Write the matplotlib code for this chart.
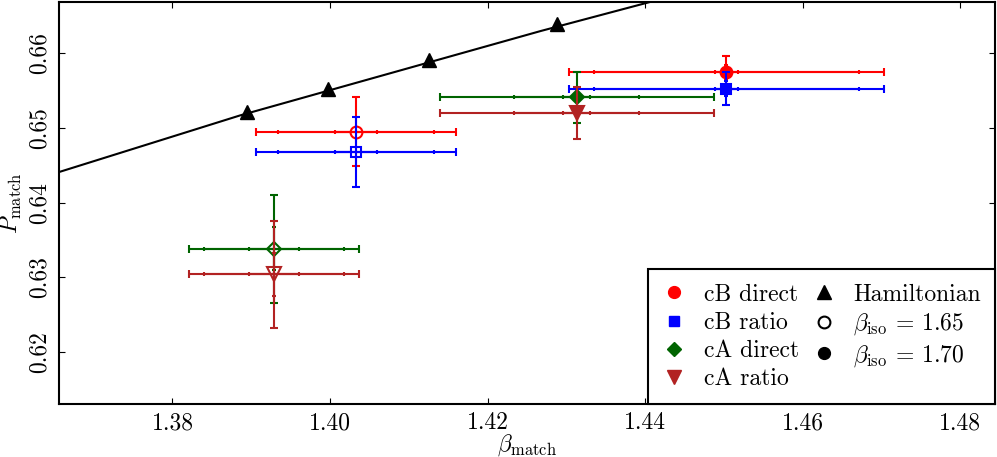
import numpy as np
import matplotlib.pyplot as plt
from matplotlib.lines import Line2D

plt.rcParams['font.family'] = 'cmr10'
plt.rcParams['mathtext.fontset'] = 'cm'
plt.rcParams['axes.unicode_minus'] = False
plt.rcParams['axes.formatter.use_mathtext'] = True
plt.rcParams['font.size'] = 17

# Hamiltonian matching points and the curve drawn through them
ham_beta = [1.3894, 1.3998, 1.4126, 1.4288]
ham_p = [0.6522, 0.6553, 0.6591, 0.6639]
curve_beta = [1.3656, 1.3886, 1.4267, 1.4406]
curve_p = [0.6441, 0.6517, 0.6630, 0.6669]

labels = ['cB direct', 'cB ratio', 'cA direct', 'cA ratio']
colors = ['red', 'blue', 'darkgreen', 'firebrick']
markers = ['o', 's', 'D', 'v']
msizes = [8.5, 7.5, 7, 10.5]

# beta_iso = 1.65 (open symbols)
beta_a = [1.4033, 1.4033, 1.3929, 1.3929]
p_a = [0.6495, 0.6468, 0.6338, 0.6304]
xerr_a = [[0.0027, 0.0099, 0.0127], [0.0027, 0.0099, 0.0127],
          [0.0032, 0.0089, 0.0108], [0.0032, 0.0089, 0.0108]]
yerr_a = [[0, 0.0046], [0, 0.0047], [0.0029, 0.0072], [0.0029, 0.0072]]

# beta_iso = 1.70 (filled symbols)
beta_b = [1.4503, 1.4503, 1.4313, 1.4313]
p_b = [0.6575, 0.6553, 0.6541, 0.6520]
xerr_b = [[0.0015, 0.0168, 0.0200], [0.0015, 0.0168, 0.0200],
          [0.0017, 0.0079, 0.0174], [0.0017, 0.0079, 0.0174]]
yerr_b = [[0.0010, 0.0021], [0.0010, 0.0022], [0, 0.0034], [0, 0.0035]]


def draw_point(ax, x, y, xe, ye, color, marker, ms, filled):
    kw = dict(fmt='none', ecolor=color, elinewidth=1.5, capthick=1.5)
    # full error: long caps
    ax.errorbar(x, y, xerr=xe[-1], yerr=ye[-1], capsize=2.7, **kw)
    # partial errors: short ticks
    inner = xe[:-1]
    ax.errorbar([x] * len(inner), [y] * len(inner), xerr=inner, capsize=1.7, **kw)
    if ye[0] > 0:
        ax.errorbar(x, y, yerr=ye[0], capsize=1.7, **kw)
    ax.plot(x, y, ls='none', marker=marker, ms=ms, color=color,
            mfc=color if filled else 'none', mec=color, mew=1.5)


fig = plt.figure(figsize=(9.97, 4.57), dpi=100)
ax = fig.add_axes([0.0592, 0.116, 0.9388, 0.8796])

ax.plot(curve_beta, curve_p, color='black', lw=1.5)
ax.plot(ham_beta, ham_p, ls='none', marker='^', ms=10.5, color='black')

for i in range(4):
    draw_point(ax, beta_a[i], p_a[i], xerr_a[i], yerr_a[i],
               colors[i], markers[i], msizes[i], False)
    draw_point(ax, beta_b[i], p_b[i], xerr_b[i], yerr_b[i],
               colors[i], markers[i], msizes[i], True)

ax.set_xlim(1.3656, 1.4844)
ax.set_ylim(0.6130, 0.6669)
ax.set_xticks([1.38, 1.40, 1.42, 1.44, 1.46, 1.48])
ax.set_xticklabels(['1.38', '1.40', '1.42', '1.44', '1.46', '1.48'])
ax.set_yticks([0.62, 0.63, 0.64, 0.65, 0.66])
ax.set_yticklabels(['0.62', '0.63', '0.64', '0.65', '0.66'],
                   rotation=90, va='center')
ax.tick_params(direction='in', top=True, right=True, length=4, width=0.8)
ax.tick_params(axis='x', pad=6)
ax.tick_params(axis='y', pad=6)
for s in ax.spines.values():
    s.set_linewidth(1.5)

ax.set_xlabel(r'$\beta_{\rm match}$')
ax.set_ylabel(r'$P_{\rm match}$')
ax.xaxis.set_label_coords(0.5, -0.07)
ax.yaxis.set_label_coords(-0.037, 0.5)

handles = []
for i in range(4):
    handles.append(Line2D([], [], ls='none', marker=markers[i], ms=msizes[i],
                          color=colors[i]))
handles.append(Line2D([], [], ls='none', marker='^', ms=10.5, color='black'))
handles.append(Line2D([], [], ls='none', marker='o', ms=8.5, mfc='none',
                      mec='black', mew=1.5))
handles.append(Line2D([], [], ls='none', marker='o', ms=8.5, color='black'))
leg_labels = labels + ['Hamiltonian', r'$\beta_{\rm iso}$ = 1.65',
                       r'$\beta_{\rm iso}$ = 1.70']
leg = ax.legend(handles, leg_labels, loc='lower right', ncol=2,
                borderaxespad=0, fancybox=False, edgecolor='black',
                framealpha=1, numpoints=1, handlelength=1.0,
                handletextpad=0.75, columnspacing=0.55, labelspacing=0.25,
                borderpad=0.6)
leg.get_frame().set_linewidth(1.5)

fig.savefig('out.png', dpi=100)
